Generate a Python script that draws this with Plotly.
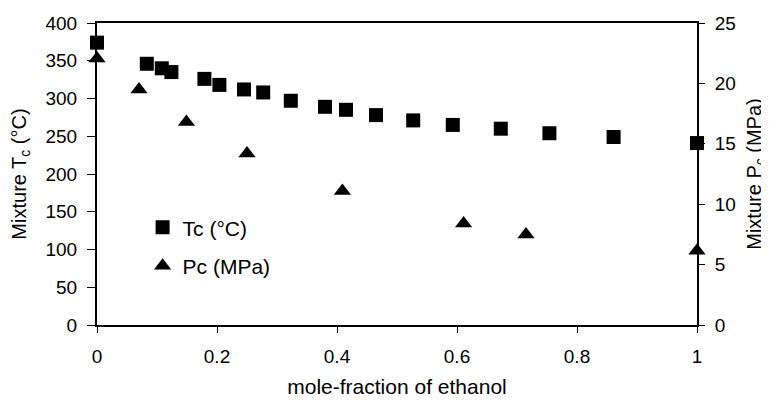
import plotly.graph_objects as go

# Data
tc_x = [0.0, 0.083, 0.108, 0.124, 0.179, 0.204, 0.245, 0.277, 0.323, 0.380, 0.415, 0.465,
        0.527, 0.593, 0.673, 0.754, 0.861, 1.0]
tc_y = [374, 346, 340, 335, 326, 318, 312, 308, 297, 289, 285, 278,
        271, 265, 260, 254, 249, 241]

pc_x = [0.0, 0.070, 0.149, 0.250, 0.409, 0.611, 0.715, 1.0]
pc_y = [22.06, 19.5, 16.8, 14.2, 11.1, 8.4, 7.5, 6.14]

x_ticks = [0, 0.2, 0.4, 0.6, 0.8, 1]
x_tick_text = ["0", "0.2", "0.4", "0.6", "0.8", "1"]

FONT = "Arial, Liberation Sans, sans-serif"

fig = go.Figure()
fig.add_trace(go.Scatter(
    x=tc_x, y=tc_y, mode="markers", name="Tc (°C)", legendgroup="tc",
    marker=dict(symbol="square", size=14, color="black"),
    yaxis="y", cliponaxis=False))
fig.add_trace(go.Scatter(
    x=pc_x, y=pc_y, mode="markers", name="Pc (MPa)", legendgroup="pc",
    marker=dict(symbol="triangle-up", size=15, color="black"),
    yaxis="y2", cliponaxis=False))

fig.update_layout(
    width=769, height=402,
    margin=dict(l=89, r=80, t=15, b=85, autoexpand=False),
    paper_bgcolor="white", plot_bgcolor="white",
    font=dict(family=FONT, size=19, color="black"),
    showlegend=True,
    legend=dict(x=0.076, y=0.39, xanchor="left", yanchor="top",
                bgcolor="rgba(0,0,0,0)", font=dict(size=21),
                itemwidth=30, tracegroupgap=8),
    xaxis=dict(
        range=[0, 1], tickvals=x_ticks, ticktext=x_tick_text,
        showline=True, linecolor="black", linewidth=2, mirror=True,
        ticks="outside", ticklen=6, tickcolor="black", tickwidth=1,
        ticklabelstandoff=7,
        showgrid=False, zeroline=False,
        title=dict(text="mole-fraction of ethanol", standoff=14, font=dict(size=21)),
    ),
    yaxis=dict(
        range=[0, 400], dtick=50,
        showline=True, linecolor="black", linewidth=2,
        ticks="outside", ticklen=8, tickcolor="black", tickwidth=1,
        ticklabelstandoff=6,
        showgrid=False, zeroline=False,
        title=dict(text="Mixture T<sub>c</sub> (°C)", standoff=21, font=dict(size=20)),
    ),
    yaxis2=dict(
        range=[0, 25], dtick=5, overlaying="y", side="right",
        showline=True, linecolor="black", linewidth=2,
        ticks="outside", ticklen=6, tickcolor="black", tickwidth=1,
        ticklabelstandoff=6,
        showgrid=False, zeroline=False,
        title=dict(text="Mixture P<sub>c</sub> (MPa)", standoff=12, font=dict(size=20)),
    ),
)

fig.write_html("out.html")
